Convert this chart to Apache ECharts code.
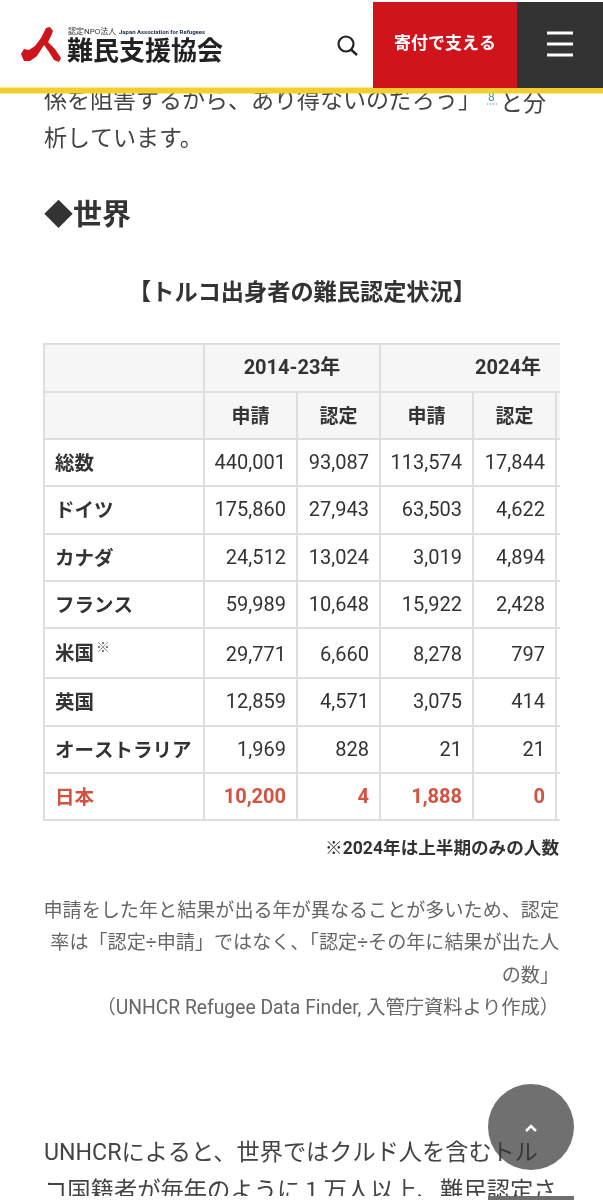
<!DOCTYPE html>
<html>
<head>
<meta charset="utf-8">
<title>トルコ出身者の難民認定状況</title>
<script src="https://cdn.jsdelivr.net/npm/echarts@6/dist/echarts.min.js"></script>
<style>html,body{margin:0;padding:0;background:#fff}</style>
</head>
<body>
<div id="main" style="width:603px;height:1200px"></div>
<script>
var countries = ['総数', 'ドイツ', 'カナダ', 'フランス', '米国', '英国', 'オーストラリア', '日本'];
var apply2014 = [440001, 175860, 24512, 59989, 29771, 12859, 1969, 10200];
var recog2014 = [93087, 27943, 13024, 10648, 6660, 4571, 828, 4];
var apply2024 = [113574, 63503, 3019, 15922, 8278, 3075, 21, 1888];
var recog2024 = [17844, 4622, 4894, 2428, 797, 414, 21, 0];
var periods = ['2014-23年', '2024年'];
var measures = ['申請', '認定'];

var sans = '"Noto Sans CJK JP", sans-serif';
var num = 'Roboto, "Noto Sans CJK JP", sans-serif';
var ink = '#333333';
var red = '#d4523f';
var line = '#dedede';
var headBg = '#f7f6f6';
var rowSizes = [47, 47.5, 47.5, 47, 50, 47.5, 47.5, 47];
var colSizes = [93, 83, 93, 83, 80];
var columns = [apply2014, recog2014, apply2024, recog2024];

var bodyData = [];
columns.forEach(function (col, c) {
    col.forEach(function (v, r) {
        var isJapan = countries[r] === '日本';
        var cellStyle = {
            fontFamily: num, fontSize: 20,
            color: isJapan ? red : ink, fontWeight: isJapan ? 'bold' : 'normal',
            // rich text sits at the top of a matrix cell, the padding brings it down
            padding: [r === 4 ? 16 : 13, 0, 0, 0]
        };
        bodyData.push({
            coord: [c, r],
            value: '{v|' + v.toLocaleString('en-US') + '}',
            label: {
                position: 'insideRight', distance: 8, overflow: 'none',
                rich: { v: cellStyle }
            }
        });
    });
});

function text(x, y, str, size, color, weight, align, family) {
    return {
        type: 'text', z: 50, x: x, y: y,
        style: {
            text: str, fontSize: size, fill: color, fontWeight: weight || 'normal',
            align: align || 'left', verticalAlign: 'middle', fontFamily: family || num
        }
    };
}
function rect(x, y, w, h, color, z) {
    return { type: 'rect', z: z, shape: { x: x, y: y, width: w, height: h }, style: { fill: color } };
}
function hline(y) {
    return rect(547, y - 1.5, 26, 3, '#ffffff', 102);
}

var page = [
    // page copy
    text(44, 102, '係を阻害するから、あり得ないのだろう」', 23, '#444'),
    text(488, 98, '8', 12, '#4a9a9a'),
    { type: 'line', z: 50, shape: { x1: 487, y1: 104, x2: 497, y2: 104 }, style: { stroke: '#4a9a9a', lineWidth: 1, lineDash: [1.5, 1.5] } },
    text(500, 102, 'と分', 23, '#444', 'normal', 'left', sans),
    text(44, 140, '析しています。', 23, '#444'),
    text(44, 214, '◆世界', 29, ink, 'bold', 'left', sans),
    text(302, 291, '【トルコ出身者の難民認定状況】', 23.2, ink, 'bold', 'center', sans),
    text(96, 648, '※', 14, '#666'),
    rect(560, 335, 43, 495, '#ffffff', 60),
    text(559, 850, '※2024年は上半期のみの人数', 17.6, ink, 'bold', 'right'),
    text(559, 912, '申請をした年と結果が出る年が異なることが多いため、認定', 19.1, '#666', 'normal', 'right'),
    text(559, 944, '率は「認定÷申請」ではなく、「認定÷その年に結果が出た人', 19.1, '#666', 'normal', 'right'),
    text(559, 977, 'の数」', 19.1, '#666', 'normal', 'right'),
    text(559, 1009, '（UNHCR Refugee Data Finder, 入管庁資料より作成）', 19.3, '#666', 'normal', 'right'),
    text(44, 1154, 'UNHCRによると、世界ではクルド人を含むトル', 23.2, '#444'),
    text(44, 1193, 'コ国籍者が毎年のように１万人以上、難民認定さ', 23.3, '#444'),
    rect(0, 1196, 603, 4, '#ffffff', 80),
    // scroll button
    { type: 'circle', z: 90, shape: { cx: 531, cy: 1127, r: 43 }, style: { fill: 'rgba(51,51,51,0.7)' } },
    { type: 'polyline', z: 91, shape: { points: [[526, 1131], [531, 1126], [536, 1131]] },
      style: { stroke: '#fff', lineWidth: 2.5, fill: 'none' } },
    rect(488, 1196, 86, 4, '#6e6e6e', 90),
    // header
    rect(0, 0, 603, 88, '#ffffff', 100),
    rect(0, 87.5, 603, 6, '#f0cf2f', 101),
    rect(373, 2, 144, 86, '#cf141c', 101),
    rect(517, 2, 86, 86, '#333333', 101),
    hline(33), hline(44), hline(55),
    { type: 'circle', z: 102, shape: { cx: 346, cy: 44, r: 7.5 }, style: { stroke: '#222', lineWidth: 2.2, fill: 'none' } },
    { type: 'line', z: 102, shape: { x1: 351, y1: 49.5, x2: 357, y2: 55 }, style: { stroke: '#222', lineWidth: 2.4 } },
    // logo mark
    { type: 'polygon', z: 102, shape: { points: [[46, 28], [41, 38], [35, 46], [29, 50], [24, 49], [21, 54], [24, 61], [30, 61], [37, 56], [44, 45], [49, 52], [54, 60], [59, 62], [61, 58], [55, 49], [48, 42], [51, 36], [53, 31], [50, 27]] },
      style: { fill: '#cf141c' } }
];
[
    text(68, 32, '認定NPO法人', 8, '#333'),
    text(119, 32, 'Japan Association for Refugees', 6, '#1c2a4a', 'bold'),
    text(67, 50, '難民支援協会', 26, '#222', 'bold', 'left', '"Noto Sans CJK JP", serif'),
    text(445, 43, '寄付で支える', 17, '#ffffff', 'bold', 'center', sans)
].forEach(function (t) {
    t.z = 103;
    page.push(t);
});

// the matrix needs unique cell values, so the second period's headers carry a zero width space
var periodLabel = { rich: { p: { fontFamily: num, fontSize: 20, fontWeight: 'bold', color: ink, padding: [13, 0, 0, 0] } } };

var myChart = echarts.init(document.getElementById('main'), null, { renderer: 'canvas' });
myChart.setOption({
    animation: false,
    backgroundColor: '#ffffff',
    graphic: { elements: page },
    matrix: {
        left: 44,
        top: 344,
        width: 592,
        height: 476,
        backgroundStyle: { color: '#ffffff', borderWidth: 0 },
        borderZ2: 60,
        x: {
            levelSize: 47.5,
            data: [
                { value: '{p|' + periods[0] + '}', label: periodLabel, children: [{ value: measures[0], size: colSizes[0] }, { value: measures[1], size: colSizes[1] }] },
                { value: '{p|' + periods[1] + '}', label: periodLabel, children: [{ value: measures[0] + '\u200b', size: colSizes[2] }, { value: measures[1] + '\u200b', size: colSizes[3] }, { value: ' ', size: colSizes[4] }] }
            ],
            label: { fontFamily: sans, fontSize: 19, fontWeight: 'bold', color: ink },
            itemStyle: { color: headBg, borderColor: line, borderWidth: 2 },
            dividerLineStyle: { color: line, width: 2 }
        },
        y: {
            levelSize: 160,
            data: countries.map(function (name, i) {
                var item = { value: name, size: rowSizes[i] };
                if (name === '日本') {
                    item.label = { color: red };
                }
                return item;
            }),
            label: { fontFamily: sans, fontSize: 19.5, fontWeight: 'bold', color: ink, position: 'insideLeft', distance: 8, overflow: 'none' },
            itemStyle: { color: '#ffffff', borderColor: line, borderWidth: 2 },
            dividerLineStyle: { color: line, width: 2 }
        },
        corner: {
            itemStyle: { color: headBg, borderColor: line, borderWidth: 2 }
        },
        body: {
            data: bodyData,
            itemStyle: { color: '#ffffff', borderColor: line, borderWidth: 2 }
        }
    }
});
</script>
</body>
</html>
